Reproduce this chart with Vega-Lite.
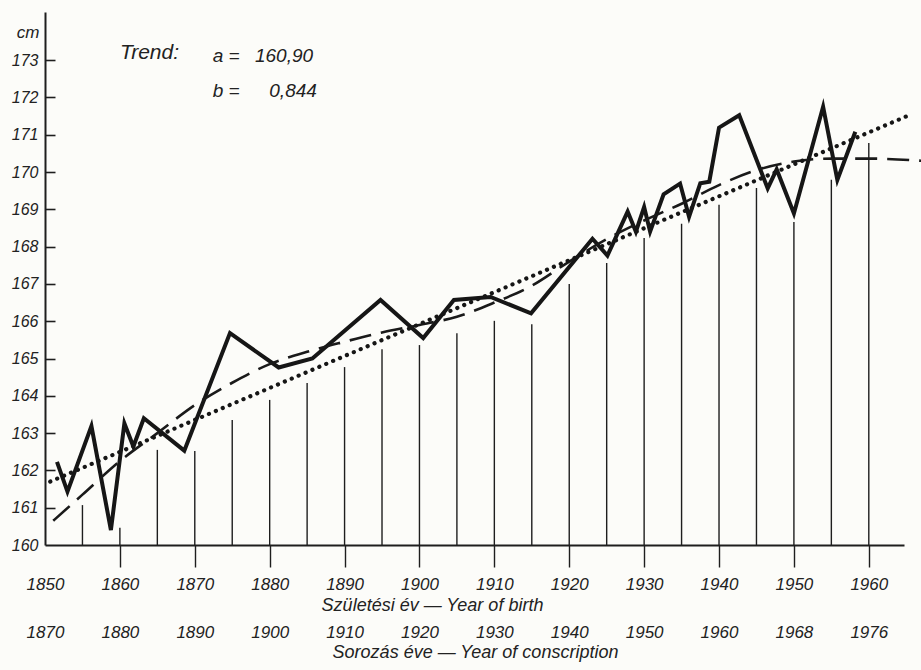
{
  "$schema": "https://vega.github.io/schema/vega-lite/v6.json",
  "width": 859,
  "height": 533,
  "autosize": "none",
  "padding": {"left": 45, "top": 12, "right": 17, "bottom": 125},
  "background": "#fcfcf9",
  "config": {"view": {"stroke": null}, "font": "Liberation Sans"},
  "datasets": {
    "measured": [
      {"year": 1851.6, "v": 162.23}, {"year": 1853.0, "v": 161.43}, {"year": 1856.2, "v": 163.19},
      {"year": 1858.8, "v": 160.40}, {"year": 1860.6, "v": 163.26}, {"year": 1861.8, "v": 162.64},
      {"year": 1863.2, "v": 163.40}, {"year": 1868.6, "v": 162.53}, {"year": 1874.7, "v": 165.68},
      {"year": 1881.2, "v": 164.76}, {"year": 1885.7, "v": 165.00}, {"year": 1894.8, "v": 166.57},
      {"year": 1900.5, "v": 165.55}, {"year": 1904.6, "v": 166.57}, {"year": 1909.5, "v": 166.65},
      {"year": 1914.9, "v": 166.21}, {"year": 1923.1, "v": 168.21}, {"year": 1925.1, "v": 167.76},
      {"year": 1927.8, "v": 168.94}, {"year": 1928.9, "v": 168.40}, {"year": 1930.0, "v": 169.06},
      {"year": 1930.8, "v": 168.40}, {"year": 1932.6, "v": 169.40}, {"year": 1934.8, "v": 169.69},
      {"year": 1936.0, "v": 168.80}, {"year": 1937.5, "v": 169.70}, {"year": 1938.7, "v": 169.74},
      {"year": 1940.0, "v": 171.19}, {"year": 1942.7, "v": 171.52}, {"year": 1946.5, "v": 169.56},
      {"year": 1947.7, "v": 170.07}, {"year": 1950.0, "v": 168.89}, {"year": 1953.9, "v": 171.75},
      {"year": 1955.8, "v": 169.79}, {"year": 1958.2, "v": 171.08}
    ],
    "smooth": [
      {"year": 1851.1, "v": 160.65}, {"year": 1855, "v": 161.35}, {"year": 1860, "v": 162.25},
      {"year": 1865, "v": 163.0}, {"year": 1870, "v": 163.75}, {"year": 1875, "v": 164.35},
      {"year": 1880, "v": 164.85}, {"year": 1885, "v": 165.18}, {"year": 1890, "v": 165.45},
      {"year": 1895, "v": 165.7}, {"year": 1900, "v": 165.9}, {"year": 1905, "v": 166.12},
      {"year": 1910, "v": 166.5}, {"year": 1915, "v": 166.95}, {"year": 1920, "v": 167.6},
      {"year": 1925, "v": 168.2}, {"year": 1930, "v": 168.7}, {"year": 1935, "v": 169.15},
      {"year": 1940, "v": 169.65}, {"year": 1945, "v": 170.05}, {"year": 1950, "v": 170.28},
      {"year": 1955, "v": 170.36}, {"year": 1960, "v": 170.36}, {"year": 1967.2, "v": 170.3}
    ],
    "linear": [
      {"year": 1850.7, "v": 161.70}, {"year": 1965.7, "v": 171.55}
    ],
    "drops": [
      {"year": 1855, "top": 161.07}, {"year": 1860, "top": 160.46}, {"year": 1865, "top": 162.55},
      {"year": 1870, "top": 162.52}, {"year": 1875, "top": 163.35}, {"year": 1880, "top": 163.89},
      {"year": 1885, "top": 164.34}, {"year": 1890, "top": 164.77}, {"year": 1895, "top": 165.25},
      {"year": 1900, "top": 165.36}, {"year": 1905, "top": 165.68}, {"year": 1910, "top": 166.01},
      {"year": 1915, "top": 165.92}, {"year": 1920, "top": 167.00}, {"year": 1925, "top": 167.56},
      {"year": 1930, "top": 168.23}, {"year": 1935, "top": 168.61}, {"year": 1940, "top": 169.12},
      {"year": 1945, "top": 169.57}, {"year": 1950, "top": 168.66}, {"year": 1955, "top": 169.79},
      {"year": 1960, "top": 170.78}
    ]
  },
  "layer": [
    {
      "data": {"name": "drops"},
      "mark": {"type": "rule", "color": "#1e1e1e", "strokeWidth": 1.4},
      "encoding": {
        "x": {
          "field": "year", "type": "quantitative",
          "scale": {"domain": [1850, 1964.7], "nice": false, "zero": false},
          "axis": {
            "orient": "bottom",
            "values": [1850, 1860, 1870, 1880, 1890, 1900, 1910, 1920, 1930, 1940, 1950, 1960],
            "format": "d",
            "grid": false,
            "domainColor": "#1e1e1e", "domainWidth": 2,
            "tickSize": 22, "tickWidth": 1.4,
            "tickColor": {"condition": {"test": "datum.value < 1855", "value": "transparent"}, "value": "#1e1e1e"},
            "labelFont": "Liberation Sans", "labelFontStyle": "italic", "labelFontSize": 17,
            "labelColor": "#222222", "labelPadding": 9, "labelFlush": false, "labelOverlap": false,
            "title": "Születési év — Year of birth",
            "titleFont": "Liberation Sans", "titleFontStyle": "italic", "titleFontWeight": "normal",
            "titleFontSize": 18, "titleColor": "#222222",
            "titleX": 387, "titleY": 65, "titleAlign": "center", "titleBaseline": "alphabetic"
          }
        },
        "y": {
          "field": "top", "type": "quantitative",
          "scale": {"domain": [160, 174.29], "nice": false, "zero": false},
          "axis": {
            "values": [160, 161, 162, 163, 164, 165, 166, 167, 168, 169, 170, 171, 172, 173],
            "format": "d",
            "grid": false,
            "domainColor": "#1e1e1e", "domainWidth": 2,
            "tickSize": -10, "tickWidth": 1.6,
            "tickColor": {"condition": {"test": "datum.value < 160.5", "value": "transparent"}, "value": "#1e1e1e"},
            "labelFont": "Liberation Sans", "labelFontStyle": "italic", "labelFontSize": 16,
            "labelColor": "#222222", "labelPadding": 17, "labelOverlap": false,
            "title": "cm",
            "titleFont": "Liberation Sans", "titleFontStyle": "italic", "titleFontWeight": "normal",
            "titleFontSize": 17, "titleColor": "#222222",
            "titleAngle": 0, "titleAlign": "right", "titleBaseline": "alphabetic",
            "titleX": -6, "titleY": 25
          }
        },
        "y2": {"datum": 160}
      }
    },
    {
      "data": {"name": "measured"},
      "mark": {"type": "line", "color": "#161616", "strokeWidth": 4, "strokeJoin": "miter", "strokeMiterLimit": 6},
      "encoding": {
        "x": {
          "field": "year", "type": "quantitative",
          "axis": {
            "orient": "bottom",
            "values": [1850, 1860, 1870, 1880, 1890, 1900, 1910, 1920, 1930, 1940, 1950, 1960],
            "labelExpr": "datum.value < 1945 ? datum.value + 20 : (datum.value < 1955 ? 1968 : 1976)",
            "domain": false, "ticks": false, "grid": false,
            "labelFont": "Liberation Sans", "labelFontStyle": "italic", "labelFontSize": 17,
            "labelColor": "#222222", "labelPadding": 79, "labelFlush": false, "labelOverlap": false,
            "title": "Sorozás éve — Year of conscription",
            "titleFont": "Liberation Sans", "titleFontStyle": "italic", "titleFontWeight": "normal",
            "titleFontSize": 18, "titleColor": "#222222",
            "titleX": 430, "titleY": 112, "titleAlign": "center", "titleBaseline": "alphabetic"
          }
        },
        "y": {"field": "v", "type": "quantitative", "axis": null}
      }
    },
    {
      "data": {"name": "smooth"},
      "mark": {"type": "line", "color": "#1a1a1a", "strokeWidth": 2.6, "strokeDash": [22, 10], "interpolate": "monotone"},
      "encoding": {
        "x": {"field": "year", "type": "quantitative", "axis": null},
        "y": {"field": "v", "type": "quantitative", "axis": null}
      }
    },
    {
      "data": {"name": "linear"},
      "mark": {"type": "line", "color": "#161616", "strokeWidth": 4.2, "strokeDash": [0.1, 7.4], "strokeCap": "round"},
      "encoding": {
        "x": {"field": "year", "type": "quantitative", "axis": null},
        "y": {"field": "v", "type": "quantitative", "axis": null}
      }
    },
    {
      "data": {"values": [{"t": "Trend:"}]},
      "mark": {"type": "text", "font": "Liberation Sans", "fontStyle": "italic", "fontSize": 21, "color": "#222222", "align": "left", "baseline": "alphabetic"},
      "encoding": {
        "x": {"datum": 1860.0, "type": "quantitative", "axis": null},
        "y": {"datum": 173.03, "type": "quantitative", "axis": null},
        "text": {"field": "t"}
      }
    },
    {
      "data": {"values": [{"t": "a ="}]},
      "mark": {"type": "text", "font": "Liberation Sans", "fontStyle": "italic", "fontSize": 19, "color": "#222222", "align": "left", "baseline": "alphabetic"},
      "encoding": {
        "x": {"datum": 1872.4, "type": "quantitative", "axis": null},
        "y": {"datum": 172.95, "type": "quantitative", "axis": null},
        "text": {"field": "t"}
      }
    },
    {
      "data": {"values": [{"t": "160,90"}]},
      "mark": {"type": "text", "font": "Liberation Sans", "fontStyle": "italic", "fontSize": 19, "color": "#222222", "align": "right", "baseline": "alphabetic"},
      "encoding": {
        "x": {"datum": 1885.8, "type": "quantitative", "axis": null},
        "y": {"datum": 172.95, "type": "quantitative", "axis": null},
        "text": {"field": "t"}
      }
    },
    {
      "data": {"values": [{"t": "b ="}]},
      "mark": {"type": "text", "font": "Liberation Sans", "fontStyle": "italic", "fontSize": 19, "color": "#222222", "align": "left", "baseline": "alphabetic"},
      "encoding": {
        "x": {"datum": 1872.4, "type": "quantitative", "axis": null},
        "y": {"datum": 172.01, "type": "quantitative", "axis": null},
        "text": {"field": "t"}
      }
    },
    {
      "data": {"values": [{"t": "0,844"}]},
      "mark": {"type": "text", "font": "Liberation Sans", "fontStyle": "italic", "fontSize": 19, "color": "#222222", "align": "right", "baseline": "alphabetic"},
      "encoding": {
        "x": {"datum": 1886.3, "type": "quantitative", "axis": null},
        "y": {"datum": 172.01, "type": "quantitative", "axis": null},
        "text": {"field": "t"}
      }
    }
  ],
  "resolve": {"axis": {"x": "independent", "y": "independent"}}
}
